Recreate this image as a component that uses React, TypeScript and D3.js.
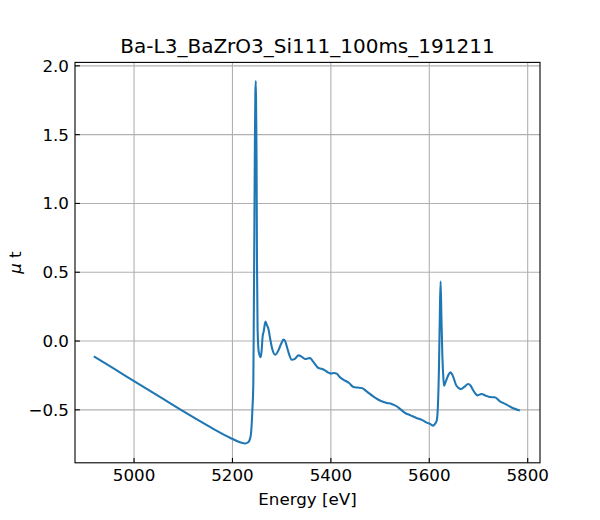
import React from "react";
import * as d3 from "d3";

const title = "Ba-L3_BaZrO3_Si111_100ms_191211";
const xTicks = [5000, 5200, 5400, 5600, 5800];
const yTicks = [-0.5, 0.0, 0.5, 1.0, 1.5, 2.0];

const energy = [
  4920, 4960, 5000, 5060, 5097, 5127, 5161, 5195, 5215, 5225.6, 5232, 5237, 5240.5, 5242.4,
  5243.5, 5244.5, 5245.5, 5246.5, 5247.5, 5248.3, 5249, 5249.8, 5251, 5253.5, 5257.5, 5259.5,
  5261.3, 5263.5, 5267, 5270, 5273, 5276, 5281, 5287, 5293, 5299, 5303.6, 5307, 5312, 5320.5,
  5327, 5334, 5341, 5347.6, 5353, 5357.8, 5364, 5374.7, 5381, 5388, 5394, 5400, 5406, 5412, 5418,
  5428.8, 5437, 5445.6, 5454, 5462.6, 5472.7, 5486, 5503, 5514, 5523.5, 5533.7, 5541, 5550.5,
  5562, 5574, 5586, 5596, 5601, 5607, 5612, 5615, 5617.5, 5619.6, 5621.6, 5623, 5624.6, 5626.6,
  5628.5, 5630, 5632, 5635, 5639, 5643, 5646, 5648.7, 5654, 5659, 5664, 5671, 5679, 5684, 5688,
  5693, 5698, 5706, 5715, 5723, 5733, 5743.6, 5757, 5770.6, 5782,
];
const mu = [
  -0.115, -0.203, -0.291, -0.423, -0.504, -0.568, -0.638, -0.703, -0.735, -0.745, -0.736, -0.69,
  -0.5, -0.305, 0.25, 0.8, 1.4, 1.8, 1.89, 1.6, 1.3, 0.6, 0.1, -0.08, -0.118, -0.06, 0.033, 0.07,
  0.142, 0.115, 0.09, 0.03, -0.06, -0.1, -0.07, -0.02, 0.01, 0.0, -0.06, -0.136, -0.13, -0.104,
  -0.115, -0.131, -0.127, -0.124, -0.15, -0.196, -0.202, -0.213, -0.228, -0.237, -0.232, -0.237,
  -0.262, -0.288, -0.305, -0.334, -0.338, -0.341, -0.366, -0.402, -0.438, -0.45, -0.457, -0.474,
  -0.495, -0.522, -0.54, -0.559, -0.575, -0.595, -0.6, -0.615, -0.6, -0.58, -0.475, -0.208, 0.227,
  0.433, 0.18, -0.11, -0.26, -0.324, -0.31, -0.28, -0.245, -0.228, -0.24, -0.26, -0.317, -0.34,
  -0.349, -0.334, -0.312, -0.324, -0.35, -0.378, -0.395, -0.385, -0.397, -0.407, -0.409, -0.438,
  -0.462, -0.489, -0.503,
];

const W = 600;
const H = 520;
const M = { left: 75, right: 540, top: 62.4, bottom: 462.8 };
const font = "'DejaVu Sans', sans-serif";

export default function App() {
  const x = d3.scaleLinear().domain([4880, 5825]).range([M.left, M.right]);
  const y = d3.scaleLinear().domain([-0.885, 2.025]).range([M.bottom, M.top]);
  const pts: [number, number][] = energy.map((e, i) => [e, mu[i]]);
  const line = d3
    .line<[number, number]>()
    .x((d) => x(d[0]))
    .y((d) => y(d[1]))
    .curve(d3.curveMonotoneX);
  const fmtY = (v: number) => v.toFixed(1).replace("-", "\u2212");
  return (
    <svg width={W} height={H} style={{ position: "absolute", left: 0, top: 0, background: "#fff" }} fontFamily={font}>
      <rect x={0} y={0} width={W} height={H} fill="#fff" />
      <g stroke="#b0b0b0" strokeWidth={1.1}>
        {xTicks.map((t) => (
          <line key={"gx" + t} x1={x(t)} x2={x(t)} y1={M.top} y2={M.bottom} />
        ))}
        {yTicks.map((t) => (
          <line key={"gy" + t} x1={M.left} x2={M.right} y1={y(t)} y2={y(t)} />
        ))}
      </g>
      <defs>
        <clipPath id="clip">
          <rect x={M.left} y={M.top} width={M.right - M.left} height={M.bottom - M.top} />
        </clipPath>
      </defs>
      <path d={line(pts) || ""} fill="none" stroke="#1f77b4" strokeWidth={2.08} strokeLinejoin="round" strokeLinecap="square" clipPath="url(#clip)" />
      <g stroke="#000" strokeWidth={1.1}>
        {xTicks.map((t) => (
          <line key={"tx" + t} x1={x(t)} x2={x(t)} y1={M.bottom} y2={M.bottom - 4.9} />
        ))}
        {yTicks.map((t) => (
          <line key={"ty" + t} x1={M.left} x2={M.left + 4.9} y1={y(t)} y2={y(t)} />
        ))}
      </g>
      <rect x={M.left} y={M.top} width={M.right - M.left} height={M.bottom - M.top} fill="none" stroke="#000" strokeWidth={1.1} />
      <g fontSize={16.7} fill="#000">
        {xTicks.map((t) => (
          <text key={"lx" + t} x={x(t)} y={M.bottom + 18.5} textAnchor="middle">
            {t}
          </text>
        ))}
        {yTicks.map((t) => (
          <text key={"ly" + t} x={M.left - 6} y={y(t) + 6} textAnchor="end">
            {fmtY(t)}
          </text>
        ))}
        <text x={(M.left + M.right) / 2} y={M.bottom + 42} textAnchor="middle">
          Energy [eV]
        </text>
        <text transform={`translate(21, ${(M.top + M.bottom) / 2}) rotate(-90)`} textAnchor="middle">
          <tspan fontStyle="italic">μ</tspan>
          <tspan> t</tspan>
        </text>
      </g>
      <text x={(M.left + M.right) / 2} y={M.top - 9} textAnchor="middle" fontSize={20} fill="#000">
        {title}
      </text>
    </svg>
  );
}
